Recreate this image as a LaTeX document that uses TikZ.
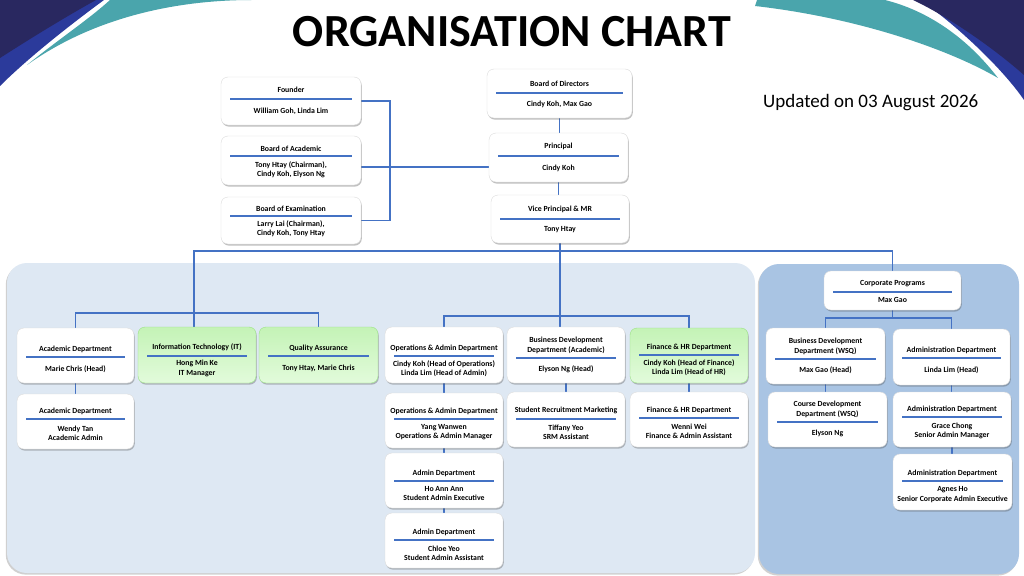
\documentclass[tikz,border=0pt]{standalone}
\usepackage{fontspec}
\setmainfont{Carlito}
\usetikzlibrary{shadows,calc}
\definecolor{navy}{RGB}{41,40,96}
\definecolor{royal}{RGB}{43,58,155}
\definecolor{tealc}{RGB}{74,165,172}
\definecolor{lpanel}{RGB}{222,232,243}
\definecolor{rpanel}{RGB}{169,196,227}
\definecolor{lineblue}{RGB}{68,114,196}
\definecolor{gfillA}{RGB}{226,251,219}
\definecolor{gfillB}{RGB}{196,243,182}
\definecolor{gdraw}{RGB}{150,222,130}
\pgfdeclarelayer{bg}
\pgfdeclarelayer{links}
\pgfsetlayers{bg,links,main}
\newcommand\toff{4.5}
\newcommand\obox[9]{%
 \pgfmathsetmacro\oBW{#5-#3}\pgfmathsetmacro\oBH{#6-#4}%
 \pgfmathsetmacro\oCX{(#3+#5)/2}\pgfmathsetmacro\oCY{(#4+#6)/2}%
 \pgfmathsetmacro\oNY{(#7+#6)/2-1}\pgfmathsetmacro\oTY{#7-\toff}%
 \node[#2, minimum width=\oBW pt, minimum height=\oBH pt] (#1) at (\oCX,\oCY) {};
 \node[ttl] (#1-t) at (\oCX,\oTY) {#8};
 \draw[uline] ({#3+9},#7) -- ({#5-9},#7);
 \node[nms] (#1-n) at (\oCX,\oNY) {#9};
}
\begin{document}
\begin{tikzpicture}[x=1pt,y=-1pt,
  box/.style={draw=black!14, line width=0.4pt, fill=white, rounded corners=7pt, inner sep=0pt, outer sep=0pt,
    drop shadow={shadow xshift=0.8pt, shadow yshift=-1.6pt, opacity=0.35, fill=black!70}},
  gbox/.style={box, draw=gdraw, top color=gfillB, bottom color=gfillA},
  ttl/.style={font=\fontsize{7.8}{9.2}\selectfont\bfseries, align=center, inner sep=0pt, anchor=south},
  nms/.style={font=\fontsize{7.8}{9.2}\selectfont\bfseries, align=center, inner sep=0pt, anchor=center},
  uline/.style={draw=lineblue, line width=2.4pt},
  conn/.style={draw=lineblue, line width=1.8pt},
  panelshadow/.style={drop shadow={shadow xshift=-1.2pt, shadow yshift=-1.6pt, opacity=0.3, fill=black!60}}]
\useasboundingbox (0,0) rectangle (1024,575);
\begin{pgfonlayer}{bg}
\fill[white] (0,0) rectangle (1024,575);
% top-left decoration
\fill[royal] (0,0) -- (104,0) .. controls (70,25) and (28,58) .. (0,86) -- cycle;
\fill[navy] (0,0) -- (96,0) .. controls (60,20) and (25,42) .. (0,58) -- cycle;
\fill[tealc] (110,0) -- (252,0) .. controls (170,0) and (90,20) .. (27,65) .. controls (55,42) and (88,20) .. (110,0) -- cycle;
% top-right decoration
\fill[royal] (920,0) .. controls (950,20) and (1000,65) .. (1024,100) -- (1024,0) -- cycle;
\fill[navy] (913,0) .. controls (945,15) and (990,45) .. (1024,75) -- (1024,0) -- cycle;
\fill[tealc] (757,0) -- (885,0) .. controls (925,10) and (965,35) .. (998,78) .. controls (950,50) and (860,18) .. (755,6) -- cycle;
% panels
\fill[lpanel, rounded corners=20pt, panelshadow] (7,263) rectangle (755,573);
\fill[rpanel, rounded corners=20pt, panelshadow] (759,264) rectangle (1019,574);
\end{pgfonlayer}

\node[font=\fontsize{46}{50}\selectfont\bfseries, anchor=base, inner sep=0pt] (title) at (512,47) {ORGANISATION CHART};
\node[font=\fontsize{19}{22}\selectfont, anchor=base west, inner sep=0pt] (upd) at (763,107) {Updated on 03 August 2026};

% top boxes
\renewcommand\toff{6.5}
\obox{founder}{box}{221}{77}{361}{125}{99}{Founder}{William Goh, Linda Lim}
\obox{bod}{box}{487}{69}{632}{118}{93}{Board of Directors}{Cindy Koh, Max Gao}
\obox{principal}{box}{489}{133}{628}{182}{156}{Principal}{Cindy Koh}
\obox{vp}{box}{491}{195}{629}{243}{219}{Vice Principal \& MR}{Tony Htay}
\renewcommand\toff{4.5}
\obox{boa}{box}{221}{136}{361}{185}{156}{Board of Academic}{Tony Htay (Chairman),\\Cindy Koh, Elyson Ng}
\obox{exam}{box}{221}{197}{361}{244}{216}{Board of Examination}{Larry Lai (Chairman),\\Cindy Koh, Tony Htay}

% left panel
\obox{acad}{box}{17}{328}{134}{383}{357}{Academic Department}{Marie Chris (Head)}
\obox{acad2}{box}{17}{394}{134}{449}{419}{Academic Department}{Wendy Tan\\Academic Admin}
\obox{it}{gbox}{138}{327}{256}{383}{356}{Information Technology (IT)}{Hong Min Ke\\IT Manager}
\obox{qa}{gbox}{259}{327}{378}{383}{356}{Quality Assurance}{Tony Htay, Marie Chris}
\obox{ops}{box}{385}{327}{503}{383}{356}{Operations \& Admin Department}{Cindy Koh (Head of Operations)\\Linda Lim (Head of Admin)}
\obox{ops2}{box}{385}{393}{503}{448}{419}{Operations \& Admin Department}{Yang Wanwen\\Operations \& Admin Manager}
\obox{adm1}{box}{385}{453}{503}{508}{481}{Admin Department}{Ho Ann Ann\\Student Admin Executive}
\obox{adm2}{box}{385}{513}{503}{568}{540}{Admin Department}{Chloe Yeo\\Student Admin Assistant}
\obox{bda}{box}{507}{327}{625}{383}{358}{Business Development\\Department (Academic)}{Elyson Ng (Head)}
\obox{srm}{box}{507}{392}{625}{447}{419}{Student Recruitment Marketing}{Tiffany Yeo\\SRM Assistant}
\obox{fin}{gbox}{630}{328}{748}{383}{355}{Finance \& HR Department}{Cindy Koh (Head of Finance)\\Linda Lim (Head of HR)}
\obox{fin2}{box}{630}{392}{748}{447}{418}{Finance \& HR Department}{Wenni Wei\\Finance \& Admin Assistant}

% right panel
\obox{corp}{box}{824}{271}{961}{310}{292}{Corporate Programs}{Max Gao}
\obox{bdw}{box}{766}{328}{885}{384}{359}{Business Development\\Department (WSQ)}{Max Gao (Head)}
\obox{adm}{box}{893}{329}{1010}{385}{358}{Administration Department}{Linda Lim (Head)}
\obox{cdw}{box}{768}{392}{887}{447}{422}{Course Development\\Department (WSQ)}{Elyson Ng}
\obox{admg}{box}{893}{392}{1011}{447}{417}{Administration Department}{Grace Chong\\Senior Admin Manager}
\obox{adma}{box}{893}{454}{1012}{510}{481}{Administration Department}{Agnes Ho\\Senior Corporate Admin Executive}

\begin{pgfonlayer}{links}
\path (0,251) coordinate (ybar1) (0,313) coordinate (ybarL) (0,316) coordinate (ybarM)
      (0,318) coordinate (ybarR) (390,0) coordinate (xfv) (0,167) coordinate (yboa)
      (194,0) coordinate (xjL);
\draw[conn] (founder.east) -- (founder.east -| xfv) -- (exam.east -| xfv) -- (exam.east);
\draw[conn] (boa.east |- yboa) -- (principal.west |- yboa);
\draw[conn] (bod.south) -- (bod.south |- principal.north);
\draw[conn] (principal.south) -- (principal.south |- vp.north);
\draw[conn] (vp.south) -- (vp.south |- bda.north);
\draw[conn] (it.north -| xjL) -- (xjL |- ybar1) -- (corp.north |- ybar1) -- (corp.north);
\draw[conn] (acad.north) -- (acad.north |- ybarL) -- (qa.north |- ybarL) -- (qa.north);
\draw[conn] (ops.north) -- (ops.north |- ybarM) -- (fin.north |- ybarM) -- (fin.north);
\draw[conn] (corp.south) -- (corp.south |- ybarR);
\draw[conn] (bdw.north) -- (bdw.north |- ybarR) -- (adm.north |- ybarR) -- (adm.north);
\draw[conn] (acad.south) -- (acad.south |- acad2.north);
\draw[conn] (ops.south) -- (ops.south |- ops2.north);
\draw[conn] (ops2.south) -- (ops2.south |- adm1.north);
\draw[conn] (adm1.south) -- (adm1.south |- adm2.north);
\draw[conn] (bda.south) -- (bda.south |- srm.north);
\draw[conn] (fin.south) -- (fin.south |- fin2.north);
\draw[conn] (bdw.south) -- (bdw.south |- cdw.north);
\draw[conn] (adm.south) -- (adm.south |- admg.north);
\draw[conn] (admg.south) -- (admg.south |- adma.north);
\end{pgfonlayer}
\end{tikzpicture}
\end{document}
